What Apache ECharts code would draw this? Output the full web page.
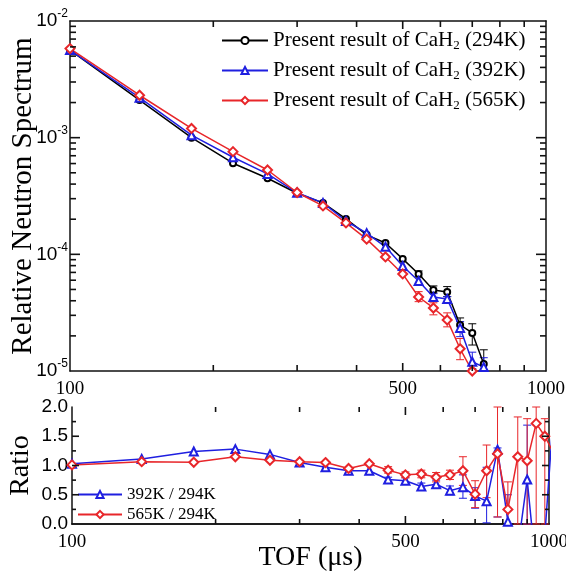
<!DOCTYPE html>
<html>
<head>
<meta charset="UTF-8">
<title>CaH2 spectrum</title>
<style>
  html, body { margin: 0; padding: 0; background: #fff; }
  #main { width: 566px; height: 578px; }
</style>
<script src="https://cdn.jsdelivr.net/npm/echarts@6/dist/echarts.min.js"></script>
</head>
<body>
<div id="main"></div>
<script>
// ---- data ----
var tof = [100, 140, 180, 220, 260, 300, 340, 380, 420, 460, 500, 540, 580, 620, 660, 700, 740];
var spec294 = [5.64e-3, 2.10e-3, 1.00e-3, 6.04e-4, 4.49e-4, 3.34e-4, 2.76e-4, 2.01e-4, 1.47e-4, 1.25e-4, 9.14e-5, 6.79e-5, 4.95e-5, 4.76e-5, 2.48e-5, 2.12e-5, 1.15e-5];
var spec392 = [5.64e-3, 2.20e-3, 1.05e-3, 6.79e-4, 4.89e-4, 3.37e-4, 2.76e-4, 1.93e-4, 1.52e-4, 1.16e-4, 7.94e-5, 5.91e-5, 4.31e-5, 4.15e-5, 2.34e-5, 1.20e-5, 1.08e-5];
var spec565 = [5.80e-3, 2.31e-3, 1.20e-3, 7.59e-4, 5.28e-4, 3.39e-4, 2.60e-4, 1.86e-4, 1.35e-4, 9.50e-5, 6.79e-5, 4.31e-5, 3.47e-5, 2.74e-5, 1.55e-5, 1.00e-5, null];
// error bars [tof, low, high]
var err294 = [[540, 6.4e-5, 7.2e-5], [580, 4.67e-5, 5.36e-5], [620, 4.34e-5, 5.29e-5], [660, 2.16e-5, 2.85e-5], [700, 1.67e-5, 2.54e-5], [740, 1.02e-5, 1.52e-5]];
var err392 = [[580, 4.0e-5, 4.6e-5], [620, 3.85e-5, 4.34e-5], [660, 1.97e-5, 2.65e-5], [700, 1.05e-5, 1.45e-5], [740, 1.0e-5, 1.3e-5]];
var err565 = [[540, 3.93e-5, 4.79e-5], [580, 3.03e-5, 3.84e-5], [620, 2.39e-5, 3.15e-5], [660, 1.25e-5, 1.9e-5]];

var ratioTof = [100, 140, 180, 220, 260, 300, 340, 380, 420, 460, 500, 540, 580, 620, 660, 700, 740, 780, 820, 860, 900, 940, 980, 1020];
var ratio392 = [1.03, 1.11, 1.24, 1.28, 1.19, 1.05, 0.97, 0.91, 0.91, 0.76, 0.74, 0.64, 0.68, 0.57, 0.63, 0.48, 0.39, 1.27, 0.04, -0.43, 0.76, -0.8, -0.2, 1.8];
var ratio565 = [1.01, 1.065, 1.055, 1.15, 1.09, 1.065, 1.05, 0.95, 1.03, 0.92, 0.84, 0.855, 0.80, 0.84, 0.91, 0.51, 0.91, 1.2, 0.25, 1.15, 1.08, 1.72, 1.5, 1.23];
var errR392 = [[460, 0.72, 0.80], [500, 0.69, 0.79], [540, 0.58, 0.70], [580, 0.61, 0.75], [620, 0.50, 0.65], [660, 0.44, 0.84], [700, 0.27, 0.62], [740, 0.02, 0.97], [780, 0.12, 1.30], [820, 0, 0.5], [900, 0, 1.69]];
var errR565 = [[460, 0.87, 0.98], [500, 0.79, 0.89], [540, 0.79, 0.92], [580, 0.72, 0.88], [620, 0.76, 0.92], [660, 0.66, 1.15], [700, 0.28, 0.74], [740, 0.45, 1.35], [780, 0.12, 2.0], [820, 0, 0.72], [860, 0, 1.83], [900, 0, 1.8], [940, 0, 2.0], [980, 0, 1.8]];

// ticks / labels
var xLabels = [100, 500, 1000];
var xMajor = [500];
var xMinor = [200, 300, 400, 600, 700, 800, 900];
var yLabels = [1e-5, 1e-4, 1e-3, 1e-2];
var yMajor = [1e-4, 1e-3];
var yMinor = [2e-5, 3e-5, 4e-5, 5e-5, 6e-5, 7e-5, 8e-5, 9e-5,
              2e-4, 3e-4, 4e-4, 5e-4, 6e-4, 7e-4, 8e-4, 9e-4,
              2e-3, 3e-3, 4e-3, 5e-3, 6e-3, 7e-3, 8e-3, 9e-3];
var rMajor = [0.5, 1.0, 1.5];
var rMinor = [0.25, 0.75, 1.25, 1.75];

var topNames = ['Present result of CaH2 (294K)', 'Present result of CaH2 (392K)', 'Present result of CaH2 (565K)'];
var botNames = ['392K / 294K', '565K / 294K'];

var serif = 'Liberation Serif', sans = 'Liberation Sans';
var AX = '#111';
var BLACK = '#000', BLUE = '#1f1fe0', RED = '#e8262a';

function pairs(xs, ys) {
  var out = [];
  xs.forEach(function (x, i) { if (ys[i] != null) out.push([x, ys[i]]); });
  return out;
}

function logX(grid, pos, labels, name) {
  return {
    type: 'log', logBase: 10, gridIndex: grid, position: pos, min: 100, max: 1000,
    axisLine: {show: true, lineStyle: {color: AX, width: 1.5}},
    axisTick: {show: false},
    axisLabel: labels ? {show: true, customValues: labels, margin: 9, fontFamily: serif, fontSize: 19, color: '#000',
      formatter: function (v) { return String(Math.round(v)); }} : {show: false},
    splitLine: {show: false},
    name: name || '', nameLocation: 'middle', nameGap: 20, nameMoveOverlap: false,
    nameTextStyle: {fontFamily: serif, fontSize: 28, color: '#000'}
  };
}

function logY(pos, labels) {
  return {
    type: 'log', logBase: 10, gridIndex: 0, position: pos, min: 1e-5, max: 1e-2,
    axisLine: {show: true, lineStyle: {color: AX, width: 1.5}},
    axisTick: {show: false},
    axisLabel: labels ? {show: true, customValues: labels, margin: 2, color: '#000',
      formatter: function (v) { return '{b|10}{e|' + Math.round(Math.log(v) / Math.LN10) + '}'; },
      rich: {
        b: {fontFamily: sans, fontSize: 19, color: '#000'},
        e: {fontFamily: sans, fontSize: 12, color: '#000', padding: [0, 0, 14, 0]}
      }} : {show: false},
    splitLine: {show: false},
    name: labels ? 'Relative Neutron Spectrum' : '', nameLocation: 'middle', nameGap: 32, nameMoveOverlap: false,
    nameTextStyle: {fontFamily: serif, fontSize: 29, color: '#000'}
  };
}

function ratioY(pos, labels) {
  return {
    type: 'value', gridIndex: 1, position: pos, min: 0, max: 2, interval: 0.5,
    axisLine: {show: true, lineStyle: {color: AX, width: 1.5}},
    axisTick: {show: false},
    axisLabel: labels ? {show: true, margin: 4, fontFamily: sans, fontSize: 19, color: '#000',
      formatter: function (v) { return v.toFixed(1); }} : {show: false},
    splitLine: {show: false},
    name: labels ? 'Ratio' : '', nameLocation: 'middle', nameGap: 37, nameMoveOverlap: false,
    nameTextStyle: {fontFamily: serif, fontSize: 28, color: '#000'}
  };
}

function errorBar(params, api) {
  var x = api.value(0);
  var lo = api.coord([x, api.value(1)]);
  var hi = api.coord([x, api.value(2)]);
  var w = 4;
  var st = {stroke: api.visual('color'), lineWidth: 1};
  return {type: 'group', children: [
    {type: 'line', shape: {x1: lo[0], y1: lo[1], x2: hi[0], y2: hi[1]}, style: st},
    {type: 'line', shape: {x1: lo[0] - w, y1: lo[1], x2: lo[0] + w, y2: lo[1]}, style: st},
    {type: 'line', shape: {x1: hi[0] - w, y1: hi[1], x2: hi[0] + w, y2: hi[1]}, style: st}
  ]};
}

function errSeries(data, color, xi, yi) {
  return {type: 'custom', xAxisIndex: xi, yAxisIndex: yi, data: data,
    renderItem: errorBar, encode: {x: 0, y: [1, 2]}, itemStyle: {color: color}, z: 2, silent: true};
}

function lineSeries(name, data, color, symbol, size, xi, yi) {
  return {type: 'line', name: name, xAxisIndex: xi, yAxisIndex: yi, data: data,
    symbol: symbol, symbolSize: size, showAllSymbol: true, clip: true, z: 3,
    lineStyle: {color: color, width: 1.5}, itemStyle: {color: color, borderWidth: 1.2}};
}

function legendFmt(name) {
  var m = name.match(/^(.*CaH)2(.*)$/);
  if (!m) return name;
  return '{t|' + m[1] + '}{s|2}{t|' + m[2] + '}';
}

var myChart = echarts.init(document.getElementById('main'), null, {renderer: 'canvas'});

var option = {
  animation: false,
  backgroundColor: '#fff',
  grid: [
    {left: 70, top: 21, width: 476, height: 350, outerBoundsMode: 'none'},
    {left: 72, top: 407, width: 477, height: 117, outerBoundsMode: 'none'}
  ],
  xAxis: [
    logX(0, 'bottom', xLabels),
    logX(0, 'top', null),
    logX(1, 'bottom', xLabels, 'TOF (\u03bcs)'),
    logX(1, 'top', null)
  ],
  yAxis: [
    logY('left', yLabels),
    logY('right', null),
    ratioY('left', true),
    ratioY('right', false)
  ],
  legend: [
    {
      data: topNames, orient: 'vertical', left: 216, top: 24, itemGap: 7,
      itemWidth: 46, itemHeight: 9,
      formatter: legendFmt,
      textStyle: {color: '#000', fontFamily: serif, fontSize: 21,
        rich: {
          t: {fontFamily: serif, fontSize: 21, lineHeight: 22, color: '#000'},
          s: {fontFamily: serif, fontSize: 13, lineHeight: 22, color: '#000', padding: [10, 0, 0, 0]}
        }}
    },
    {
      data: botNames, orient: 'vertical', left: 72, top: 481, itemGap: 3,
      itemWidth: 44, itemHeight: 9,
      textStyle: {color: '#000', fontFamily: serif, fontSize: 17}
    }
  ],
  series: [
    errSeries(err294, BLACK, 0, 0),
    errSeries(err392, BLUE, 0, 0),
    errSeries(err565, RED, 0, 0),
    lineSeries(topNames[0], pairs(tof, spec294), BLACK, 'emptyCircle', 6, 0, 0),
    lineSeries(topNames[1], pairs(tof, spec392), BLUE, 'emptyTriangle', 8, 0, 0),
    lineSeries(topNames[2], pairs(tof, spec565), RED, 'emptyDiamond', 9, 0, 0),
    errSeries(errR392, BLUE, 2, 2),
    errSeries(errR565, RED, 2, 2),
    lineSeries(botNames[0], pairs(ratioTof, ratio392), BLUE, 'emptyTriangle', 8, 2, 2),
    lineSeries(botNames[1], pairs(ratioTof, ratio565), RED, 'emptyDiamond', 9, 2, 2)
  ]
};

myChart.setOption(option);

// inward ticks on all four sides, positioned through the axes' own scales
function seg(x1, y1, x2, y2) {
  return {type: 'line', silent: true, z: 20,
    shape: {x1: x1, y1: y1, x2: x2, y2: y2},
    style: {stroke: AX, lineWidth: 1.6}};
}

function boxTicks(xi, yi, xr, yr, xTicks, yTicks) {
  var px = function (v) { return myChart.convertToPixel({xAxisIndex: xi}, v); };
  var py = function (v) { return myChart.convertToPixel({yAxisIndex: yi}, v); };
  var L = px(xr[0]), R = px(xr[1]), B = py(yr[0]), T = py(yr[1]);
  var out = [];
  xTicks.forEach(function (t) {
    var x = px(t[0]);
    out.push(seg(x, B, x, B - t[1]), seg(x, T, x, T + t[1]));
  });
  yTicks.forEach(function (t) {
    var y = py(t[0]);
    out.push(seg(L, y, L + t[1], y), seg(R, y, R - t[1], y));
  });
  return out;
}

function withLen(vals, len) { return vals.map(function (v) { return [v, len]; }); }

var tickEls = []
  .concat(boxTicks(0, 0, [100, 1000], [1e-5, 1e-2],
    withLen(xMajor, 8).concat(withLen(xMinor, 6)),
    withLen(yMajor, 10).concat(withLen(yMinor, 6))))
  .concat(boxTicks(2, 2, [100, 1000], [0, 2],
    withLen(xMajor, 8).concat(withLen(xMinor, 5)),
    withLen(rMajor, 7).concat(withLen(rMinor, 4))));

myChart.setOption({graphic: {elements: tickEls}});
</script>
</body>
</html>
